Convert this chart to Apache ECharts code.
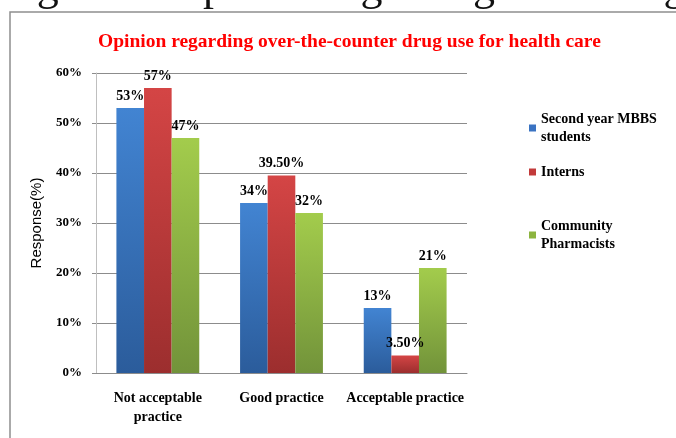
<!DOCTYPE html>
<html>
<head>
<meta charset="utf-8">
<script src="https://cdn.jsdelivr.net/npm/echarts@6/dist/echarts.min.js"></script>
<style>
html,body{margin:0;padding:0;background:#fff;}
#chart{width:676px;height:438px;}
</style>
</head>
<body>
<div id="chart"></div>
<script>
var categories = ['Not acceptable\npractice', 'Good practice', 'Acceptable practice'];
var seriesNames = ['Second year MBBS students', 'Interns', 'Community Pharmacists'];
var mbbsValues = [53, 34, 13];
var internValues = [57, 39.5, 3.5];
var pharmValues = [47, 32, 21];
var mbbsLabels = ['53%', '34%', '13%'];
var internLabels = ['57%', '39.50%', '3.50%'];
var pharmLabels = ['47%', '32%', '21%'];
var yTicks = [0, 10, 20, 30, 40, 50, 60];

var serif = 'Liberation Serif';
function grad(top, bottom) {
  return new echarts.graphic.LinearGradient(0, 0, 0, 1, [
    {offset: 0, color: top}, {offset: 1, color: bottom}
  ]);
}
var colors = [
  grad('#4284d2', '#2b5c9b'),
  grad('#d44545', '#9c2e2e'),
  grad('#a3cc4c', '#72933a')
];
var iconColors = ['#3a73c2', '#c23a3a', '#8cb43f'];

function makeSeries(idx, values, labels) {
  return {
    name: seriesNames[idx],
    type: 'bar',
    barGap: '0%',
    barCategoryGap: '33%',
    data: values,
    itemStyle: {color: colors[idx]},
    label: {
      show: true,
      position: 'top',
      distance: 5,
      fontFamily: serif,
      fontWeight: 'bold',
      fontSize: 14,
      color: '#000',
      formatter: function (p) { return labels[p.dataIndex]; }
    }
  };
}

function legendFor(idx, top, text, twoLine) {
  return {
    orient: 'vertical',
    left: 529,
    top: top,
    padding: 0,
    itemWidth: 7,
    itemHeight: 7,
    icon: 'rect',
    data: [{name: seriesNames[idx], itemStyle: {color: iconColors[idx]}}],
    formatter: function () { return text; },
    textStyle: {
      fontFamily: serif,
      fontWeight: 'bold',
      fontSize: 14,
      color: '#000',
      lineHeight: 18,
      padding: twoLine ? [18, 0, 0, 0] : 0
    }
  };
}

var chart = echarts.init(document.getElementById('chart'), null, {renderer: 'canvas'});
chart.setOption({
  animation: false,
  backgroundColor: '#fff',
  title: {
    text: 'Opinion regarding over-the-counter drug use for health care',
    left: 93,
    top: 27,
    textStyle: {
      fontFamily: serif,
      fontWeight: 'bold',
      fontSize: 19.5,
      color: '#ff0000'
    }
  },
  graphic: [
    {
      type: 'rect',
      shape: {x: 10, y: 12, width: 720, height: 520},
      style: {fill: 'none', stroke: '#8f8f8f', lineWidth: 1.5},
      silent: true
    },
    {
      type: 'text',
      x: 0,
      y: 10,
      style: {
        text: 'Figure 3: Opinion regarding OTC drug use for health care',
        fontFamily: serif,
        fontSize: 44,
        fill: '#111',
        verticalAlign: 'bottom'
      },
      silent: true
    }
  ],
  legend: [
    legendFor(0, 101, 'Second year MBBS\nstudents', true),
    legendFor(1, 163, 'Interns', false),
    legendFor(2, 208, 'Community\nPharmacists', true)
  ],
  grid: {left: 96, right: 209, top: 73, bottom: 65},
  xAxis: {
    type: 'category',
    data: categories,
    axisTick: {show: false},
    axisLine: {lineStyle: {color: '#8c8c8c', width: 1}},
    axisLabel: {
      fontFamily: serif,
      fontWeight: 'bold',
      fontSize: 14,
      color: '#000',
      lineHeight: 19,
      margin: 16,
      interval: 0
    }
  },
  yAxis: {
    type: 'value',
    min: yTicks[0],
    max: yTicks[yTicks.length - 1],
    interval: 10,
    name: 'Response(%)',
    nameLocation: 'middle',
    nameRotate: 90,
    nameGap: 52,
    nameTextStyle: {
      fontFamily: 'Liberation Sans',
      fontSize: 15,
      color: '#000'
    },
    axisLine: {show: true, lineStyle: {color: '#bfbfbf', width: 1}},
    axisTick: {show: true, length: 4, lineStyle: {color: '#8c8c8c'}},
    splitLine: {lineStyle: {color: '#8c8c8c', width: 1}},
    axisLabel: {
      fontFamily: serif,
      fontWeight: 'bold',
      fontSize: 13,
      color: '#000',
      margin: 14,
      formatter: '{value}%'
    }
  },
  series: [
    makeSeries(0, mbbsValues, mbbsLabels),
    makeSeries(1, internValues, internLabels),
    makeSeries(2, pharmValues, pharmLabels)
  ]
});
</script>
</body>
</html>
